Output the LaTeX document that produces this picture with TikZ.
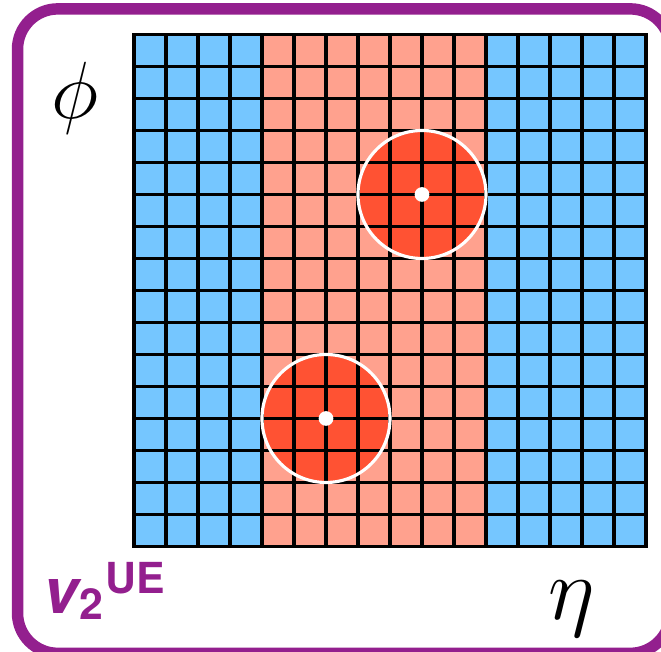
\documentclass[tikz,border=0pt]{standalone}
\usepackage{fontspec}
\newfontfamily\herosfont{TeX Gyre Heros}
\usepackage{xcolor}
\usetikzlibrary{positioning}
\definecolor{cellblue}{HTML}{75C6FF}
\definecolor{cellsalmon}{HTML}{FFA18E}
\definecolor{hotred}{HTML}{FF5233}
\definecolor{framepurple}{HTML}{931F8E}

\begin{document}
\begin{tikzpicture}[
  x=0.5cm, y=0.5cm,
  gridline/.style={black, line width=1.7pt},
  ring/.style={white, line width=1.4pt},
  hotspot/.style={fill=hotred},
  axislabel/.style={inner sep=0pt, font=\Huge, scale=1.45},
]
\useasboundingbox (-4.1875,-3.297) rectangle (16.469,17.078);

% frame
\draw[framepurple, line width=5.1pt, rounded corners=0.63cm]
  (-3.64,-3.34) rectangle (16.77,16.80);

% cells
\fill[cellblue] (0,0) rectangle (16,16);
\fill[cellsalmon] (4,0) rectangle (11,16);
\coordinate (hotA) at (9,11);
\coordinate (hotB) at (6,4);
\foreach \c in {hotA,hotB}
  \fill[hotspot] (\c) circle (2);
\foreach \i in {0,...,16} {
  \draw[gridline] (\i,0) -- (\i,16);
  \draw[gridline] (0,\i) -- (16,\i);
}
\draw[gridline, line cap=rect] (0,0) rectangle (16,16);
\foreach \c in {hotA,hotB} {
  \draw[ring] (\c) circle (2);
  \fill[white] (\c) circle (0.23);
}

% labels
\node[axislabel] (phi) at (-1.84,14.0) {$\phi$};
\node[axislabel, scale=1.1] (eta) at (13.69,-1.95) {$\eta$};
\node[anchor=base west, inner sep=0pt, text=framepurple] (flow) at (-2.84,-2.08)
  {\herosfont\bfseries\fontsize{28}{30}\selectfont\textit{v}\kern-1pt\raisebox{-3pt}{\fontsize{19}{20}\selectfont 2}\kern1pt\raisebox{8.5pt}{\fontsize{19}{20}\selectfont UE}};
\end{tikzpicture}
\end{document}
